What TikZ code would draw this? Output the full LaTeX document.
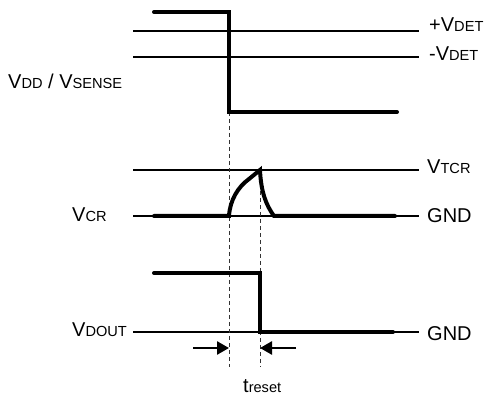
\documentclass[tikz,border=0pt]{standalone}
\usepackage{fontspec}
\setmainfont{Liberation Sans}
\usetikzlibrary{arrows.meta}
\newcommand{\sm}[1]{{\fontsize{14.6}{14.6}\selectfont #1}}
\begin{document}
\begin{tikzpicture}[x=1pt,y=-1pt,
  thin line/.style={line width=1.5pt},
  thick wave/.style={line width=4pt,line cap=round,line join=miter},
  dash line/.style={line width=0.9pt,dash pattern=on 4pt off 3pt,black!80},
  lbl/.style={anchor=base west,inner sep=0pt,font=\fontsize{20}{20}\selectfont},
  dimarrow/.style={line width=2.6pt,-{Triangle[length=12pt,width=13pt]}}]
\useasboundingbox (0,0) rectangle (488,398);
% reference lines
\draw[thin line] (133,31) -- (419,31);
\draw[thin line] (133,57) -- (419,57);
\draw[thin line] (133,170) -- (419,170);
\draw[thin line] (133,216) -- (419,216);
\draw[thin line] (133,332) -- (419,332);
% dashed guides
\draw[dash line] (229,112) -- (229,367);
\draw[dash line] (260,170) -- (260,367);
% top waveform
\draw[thick wave] (154,12) -- (229,12) -- (229,112) -- (397,112);
% middle waveform
\draw[thick wave] (154,216) -- (229,216)
   .. controls (230,200) and (238,187) .. (249,179)
   -- (260,170) .. controls (261,192) and (266,205) .. (274,216) -- (395,216);
% bottom waveform
\draw[thick wave] (154,273) -- (260,273) -- (260,332) -- (393,332);
% timing arrows
\coordinate (la) at (193,348);
\coordinate (lb) at (229,348);
\coordinate (ra) at (296,348);
\coordinate (rb) at (260,348);
\draw[dimarrow] (la) -- (lb);
\draw[dimarrow] (ra) -- (rb);
% labels
\node[lbl] (pv) at (429,32) {+V\sm{DET}};
\node[lbl] (mv) at (429,61) {-V\sm{DET}};
\node[lbl] (vdd) at (8,89) {V\sm{DD} / V\sm{SENSE}};
\node[lbl] (vtcr) at (427,174) {V\sm{TCR}};
\node[lbl] (gnd1) at (427,223) {GND};
\node[lbl] (vcr) at (72,222) {V\sm{CR}};
\node[lbl] (vdout) at (72,337) {V\sm{DOUT}};
\node[lbl] (gnd2) at (427,341) {GND};
\node[lbl] (tr) at (243,393) {t\sm{reset}};
\end{tikzpicture}
\end{document}
